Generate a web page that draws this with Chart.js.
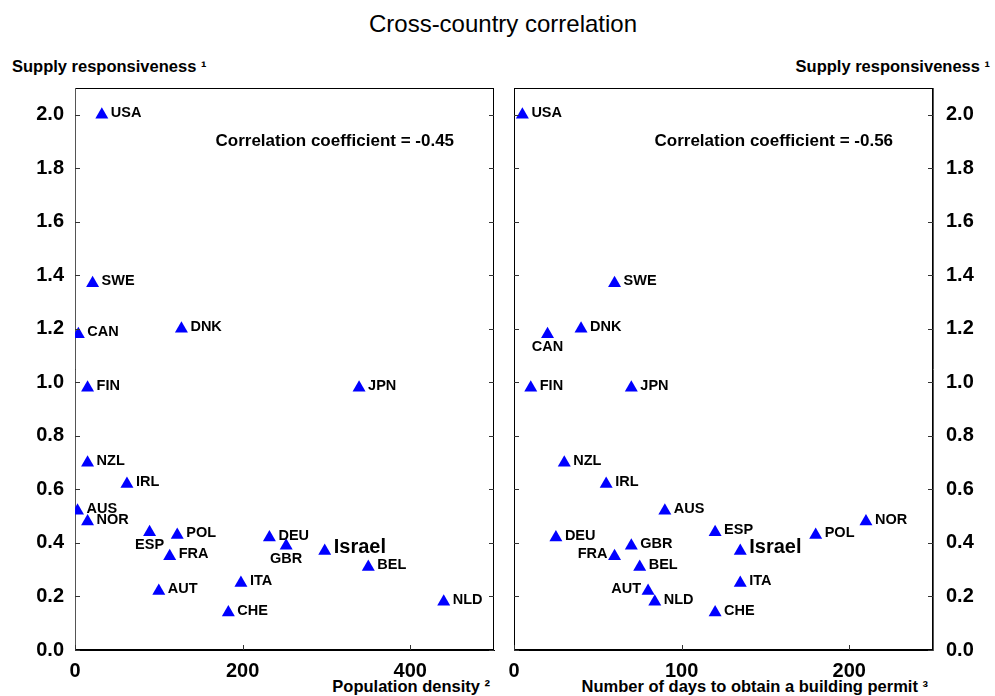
<!DOCTYPE html>
<html><head><meta charset="utf-8">
<script src="https://cdn.jsdelivr.net/npm/chart.js@4"></script>
<style>
body{margin:0;background:#fff;width:995px;height:696px;overflow:hidden;position:relative;font-family:"Liberation Sans",Arial,sans-serif;}
canvas{position:absolute;top:0;}
#c1{left:0}
#c2{left:497px}
.t{position:absolute;white-space:nowrap;color:#000;line-height:1;}
.b{font-weight:bold;font-size:16.5px;}
</style></head><body>
<div class="t" style="left:0;width:1006px;text-align:center;top:12px;font-size:24px;">Cross-country correlation</div>
<div class="t b" style="left:12px;top:58px;">Supply responsiveness ¹</div>
<div class="t b" style="right:5px;top:58px;">Supply responsiveness ¹</div>
<div class="t b" style="right:505px;top:678px;">Population density ²</div>
<div class="t b" style="right:67px;top:678px;">Number of days to obtain a building permit ³</div>
<canvas id="c1" width="497" height="696"></canvas>
<canvas id="c2" width="498" height="696"></canvas>
<script>
// ---- data ----
const countries = ['USA','SWE','CAN','DNK','FIN','JPN','NZL','IRL','AUS','NOR','ESP','POL','FRA','DEU','GBR','Israel','BEL','ITA','AUT','CHE','NLD'];
const supplyResponsiveness = [2.00,1.37,1.18,1.20,0.98,0.98,0.70,0.62,0.52,0.48,0.44,0.43,0.35,0.42,0.39,0.37,0.31,0.25,0.22,0.14,0.18];
const populationDensity = [32,21,4,127,15,339,15,62,3,15,89,122,113,232,252,298,350,198,100,183,440];
const permitDays = [5,60,20,40,10,70,30,55,90,210,120,180,60,25,70,135,75,135,80,120,84];
const yTickValues = [0,0.2,0.4,0.6,0.8,1.0,1.2,1.4,1.6,1.8,2.0];
const densityTicks = [0,200,400];
const permitTicks = [0,100,200];
const corrLeft = 'Correlation coefficient = -0.45';
const corrRight = 'Correlation coefficient = -0.56';

// ---- label placement (style) ----
const placeLeft = {ESP:'below', GBR:'below'};
const placeRight = {CAN:'below', FRA:'left', AUT:'left'};

const FONT = '"Liberation Sans", Arial, sans-serif';

const boxPlugin = {
  id:'boxPlugin',
  beforeDraw(chart){
    const {ctx, chartArea:a} = chart;
    ctx.save();
    ctx.strokeStyle = '#000';
    ctx.lineWidth = 1;
    ctx.strokeRect(Math.round(a.left)+0.5, Math.round(a.top)+0.5, Math.round(a.right-a.left)-1, Math.round(a.bottom-a.top)-1);
    ctx.restore();
  },
  afterDraw(chart){
    const {ctx, chartArea:a} = chart;
    const ys = chart.scales.y, xs = chart.scales.x;
    ctx.save();
    ctx.strokeStyle = '#333';
    ctx.lineWidth = 1;
    ctx.beginPath();
    ys.ticks.forEach(t=>{
      const py = Math.round(ys.getPixelForValue(t.value))+0.5;
      ctx.moveTo(a.left, py); ctx.lineTo(a.left+5, py);
      ctx.moveTo(a.right-5, py); ctx.lineTo(a.right, py);
    });
    xs.ticks.forEach(t=>{
      const px = Math.round(xs.getPixelForValue(t.value))+0.5;
      ctx.moveTo(px, a.bottom); ctx.lineTo(px, a.bottom-5);
    });
    ctx.stroke();
    ctx.restore();
  }
};

const labelPlugin = {
  id:'labelPlugin',
  afterDatasetsDraw(chart, args, opts){
    const ctx = chart.ctx;
    const meta = chart.getDatasetMeta(0);
    ctx.save();
    ctx.fillStyle = '#000';
    ctx.textBaseline = 'middle';
    meta.data.forEach((pt,i)=>{
      const name = countries[i];
      const isr = name === 'Israel';
      ctx.font = 'bold ' + (isr ? '20px ' : '14.5px ') + FONT;
      const place = opts.placement[name] || 'right';
      if (place === 'below') {
        ctx.textAlign = 'center';
        ctx.fillText(name, pt.x, pt.y + 13);
      } else if (place === 'left') {
        ctx.textAlign = 'right';
        ctx.fillText(name, pt.x - 7, pt.y - 2);
      } else {
        ctx.textAlign = 'left';
        ctx.fillText(name, pt.x + 9, pt.y - (isr ? 3 : 2));
      }
    });
    ctx.font = 'bold 17px ' + FONT;
    ctx.textAlign = 'center';
    const xs = chart.scales.x, ys = chart.scales.y;
    ctx.fillText(opts.note, xs.getPixelForValue(opts.noteX), ys.getPixelForValue(opts.noteY));
    ctx.restore();
  }
};

function makeChart(id, xVals, xTicks, xMax, yPos, placement, note, noteX, padding, yWidth){
  const data = xVals.map((v,i)=>({x:v, y:supplyResponsiveness[i]}));
  return new Chart(document.getElementById(id), {
    type:'scatter',
    data:{datasets:[{data, pointStyle:'triangle', pointRadius:7.5, pointHoverRadius:7.5,
      backgroundColor:'#0000FF', borderColor:'#0000FF', borderWidth:0}]},
    options:{
      responsive:false, animation:false, devicePixelRatio:1,
      layout:{padding, autoPadding:false},
      plugins:{legend:{display:false}, tooltip:{enabled:false},
        labelPlugin:{placement, note, noteX, noteY:1.9}},
      scales:{
        x:{type:'linear', min:0, max:xMax,
          grid:{display:false, drawTicks:false},
          border:{display:true, color:'#000', width:1},
          afterBuildTicks(s){ s.ticks = xTicks.map(v=>({value:v})); },
          afterFit(s){ s.height = 46; },
          ticks:{padding:9, color:'#000', font:{family:FONT, size:20, weight:'bold'}, maxRotation:0,
            callback:v=>String(v)}},
        y:{type:'linear', position:yPos, min:0, max:2.1,
          grid:{display:false, drawTicks:false},
          border:{display:true, color:'#555', width:1},
          afterBuildTicks(s){ s.ticks = yTickValues.map(v=>({value:v})); },
          afterFit(s){ s.width = yWidth; },
          ticks:{padding: yPos==='left'?11:13, color:'#000', font:{family:FONT, size:20, weight:'bold'},
            callback:v=>Number(v).toFixed(1)}}
      }
    },
    plugins:[boxPlugin, labelPlugin]
  });
}

makeChart('c1', populationDensity, densityTicks, 500, 'left', placeLeft, corrLeft, 310, {left:0,right:3,top:88,bottom:0}, 75);
makeChart('c2', permitDays, permitTicks, 250, 'right', placeRight, corrRight, 155, {left:17,right:0,top:88,bottom:0}, 62);
</script>
</body></html>
